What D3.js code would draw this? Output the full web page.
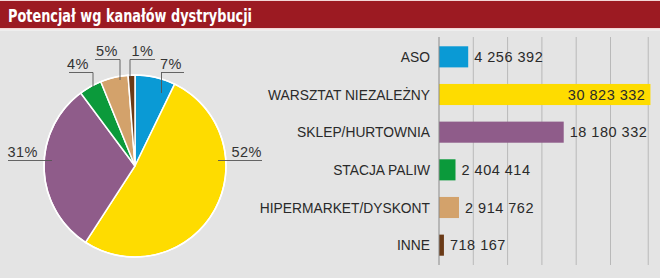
<!DOCTYPE html>
<html>
<head>
<meta charset="utf-8">
<script src="https://cdn.jsdelivr.net/npm/d3@7"></script>
<style>
  body { margin: 0; background: #e4e4e4; }
  svg { display: block; }
</style>
</head>
<body>
<svg width="660" height="278"></svg>
<script>
'use strict';

// data
const categories = ["ASO", "WARSZTAT NIEZALEŻNY", "SKLEP/HURTOWNIA", "STACJA PALIW", "HIPERMARKET/DYSKONT", "INNE"];
const values = [4256392, 30823332, 18180332, 2404414, 2914762, 718167];
const valueLabels = ["4 256 392", "30 823 332", "18 180 332", "2 404 414", "2 914 762", "718 167"];
const pctLabels = ["7%", "52%", "31%", "4%", "5%", "1%"];
const colors = ["#0a9ad5", "#fedc00", "#8f5c8a", "#0b9a3b", "#d3a26b", "#6a3a17"];
const gridTicks = [0, 5e6, 10e6, 15e6, 20e6, 25e6, 30.5e6];

const svg = d3.select("svg");
const font = "'Liberation Sans', Arial, sans-serif";

// background + title band
svg.append("rect").attr("width", 660).attr("height", 278).attr("fill", "#e4e4e4");
svg.append("rect").attr("width", 660).attr("height", 30).attr("fill", "#f2d6d6");
svg.append("rect").attr("y", 1).attr("width", 660).attr("height", 27).attr("fill", "#9c1a22");
svg.append("rect").attr("y", 29.5).attr("width", 660).attr("height", 1).attr("fill", "#f7f7f7");
svg.append("text")
  .attr("x", 8).attr("y", 21.5)
  .attr("fill", "#fff")
  .attr("font-family", "'Liberation Sans Narrow', 'DejaVu Sans Condensed', sans-serif")
  .attr("font-weight", "bold")
  .attr("font-size", 18.5)
  .attr("textLength", 244).attr("lengthAdjust", "spacingAndGlyphs")
  .text("Potencjał wg kanałów dystrybucji");

// ---- pie ----
const cx = 135, cy = 166, r = 91;
const pie = d3.pie().sort(null).value(d => d)(values);
const arc = d3.arc().innerRadius(0).outerRadius(r);
const gPie = svg.append("g").attr("transform", `translate(${cx},${cy})`);
gPie.selectAll("path").data(pie).join("path")
  .attr("d", arc)
  .attr("fill", (d, i) => colors[i])
  .attr("stroke", "#fff").attr("stroke-width", 1.5);
gPie.append("circle").attr("r", r).attr("fill", "none").attr("stroke", "#fff").attr("stroke-width", 1.5);

// label placement per slice: text baseline, underline and leader end on the slice
const pctLayout = [
  { tx: 160, ty: 69, lx1: 161, lx2: 184, ly: 72.5, kind: "down", px: 161.5, py: 93 },
  { tx: 231.5, ty: 156.5, lx1: 218, lx2: 262, ly: 160.5, kind: "flat" },
  { tx: 7.5, ty: 156.5, lx1: 8, lx2: 52, ly: 160.5, kind: "flat" },
  { tx: 67, ty: 69, lx1: 69, lx2: 93, ly: 72.5, kind: "down", px: 93, py: 87 },
  { tx: 96, ty: 56, lx1: 95, lx2: 120, ly: 59.5, kind: "down", px: 120, py: 80 },
  { tx: 131.5, ty: 56, lx1: 130, lx2: 155, ly: 59.5, kind: "down", px: 130, py: 77 }
];
const gLab = svg.append("g");
pctLayout.forEach((p, i) => {
  gLab.append("line")
    .attr("x1", p.lx1).attr("x2", p.lx2).attr("y1", p.ly).attr("y2", p.ly)
    .attr("stroke", "#555").attr("stroke-width", 0.9);
  if (p.kind === "down") {
    gLab.append("line")
      .attr("x1", p.px).attr("x2", p.px).attr("y1", p.ly).attr("y2", p.py)
      .attr("stroke", "#555").attr("stroke-width", 0.9);
  }
  gLab.append("text")
    .attr("x", p.tx).attr("y", p.ty)
    .attr("font-family", font).attr("font-size", 14.5)
    .attr("letter-spacing", 0.4)
    .attr("fill", "#333")
    .text(pctLabels[i]);
});

// ---- bars ----
const x0 = 439;
const x = d3.scaleLinear().domain([0, 5e6]).range([x0, x0 + 34.3]);
const y = d3.scaleBand().domain(categories).range([38, 264]).paddingInner(0.44).paddingOuter(0.22);

const gBar = svg.append("g");
gBar.selectAll("line.grid").data(gridTicks.slice(1)).join("line")
  .attr("class", "grid")
  .attr("x1", d => x(d)).attr("x2", d => x(d))
  .attr("y1", 37).attr("y2", 265)
  .attr("stroke", "#b9b9b9").attr("stroke-width", 1);

gBar.selectAll("rect").data(values).join("rect")
  .attr("x", x(0))
  .attr("y", (d, i) => y(categories[i]))
  .attr("width", d => x(d) - x(0))
  .attr("height", y.bandwidth())
  .attr("fill", (d, i) => colors[i]);

gBar.append("line")
  .attr("x1", x0).attr("x2", x0).attr("y1", 37).attr("y2", 265)
  .attr("stroke", "#8a8a8a").attr("stroke-width", 1);

gBar.selectAll("text.cat").data(categories).join("text")
  .attr("class", "cat")
  .attr("x", 430)
  .attr("y", d => y(d) + y.bandwidth() / 2 + 5)
  .attr("text-anchor", "end")
  .attr("font-family", font).attr("font-size", 13.8)
  .attr("textLength", d => null)
  .attr("fill", "#2a2a2a")
  .text(d => d);

gBar.selectAll("text.val").data(values).join("text")
  .attr("class", "val")
  .attr("x", d => x(d) > 600 ? x(d) - 5 : x(d) + 6)
  .attr("y", (d, i) => y(categories[i]) + y.bandwidth() / 2 + 5.3)
  .attr("text-anchor", d => x(d) > 600 ? "end" : "start")
  .attr("font-family", font).attr("font-size", 14.5)
  .attr("letter-spacing", 0.5)
  .attr("fill", "#2a2a2a")
  .text((d, i) => valueLabels[i]);
</script>
</body>
</html>
